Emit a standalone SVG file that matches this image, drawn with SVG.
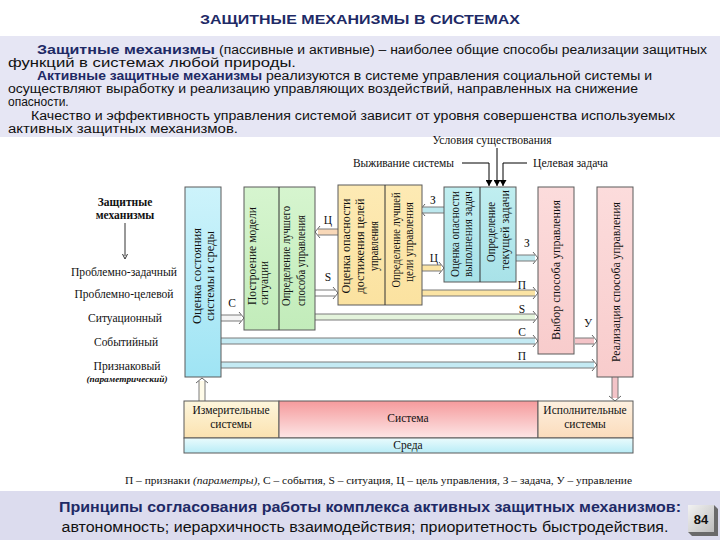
<svg xmlns="http://www.w3.org/2000/svg" width="720" height="540" viewBox="0 0 720 540">
<defs>
<linearGradient id="gBlue" x1="0" y1="0" x2="0" y2="1"><stop offset="0" stop-color="#cdf3fb"/><stop offset="1" stop-color="#9fe4f4"/></linearGradient>
<linearGradient id="gGreen" x1="0" y1="0" x2="0" y2="1"><stop offset="0" stop-color="#d6f5cf"/><stop offset="1" stop-color="#c2ecba"/></linearGradient>
<linearGradient id="gYellow" x1="0" y1="0" x2="0" y2="1"><stop offset="0" stop-color="#fdeab4"/><stop offset="1" stop-color="#fbe2a0"/></linearGradient>
<linearGradient id="gCyan" x1="0" y1="0" x2="0" y2="1"><stop offset="0" stop-color="#c0eef0"/><stop offset="1" stop-color="#a8e2e8"/></linearGradient>
<linearGradient id="gPink" x1="0" y1="0" x2="0" y2="1"><stop offset="0" stop-color="#fcdcdc"/><stop offset="1" stop-color="#f8cccc"/></linearGradient>
<linearGradient id="gSys" x1="0" y1="0" x2="0" y2="1"><stop offset="0" stop-color="#f59a9c"/><stop offset="1" stop-color="#fde6e6"/></linearGradient>
<linearGradient id="gMeas" x1="0" y1="0" x2="0" y2="1"><stop offset="0" stop-color="#fdf6dc"/><stop offset="1" stop-color="#fbe2b0"/></linearGradient>
<linearGradient id="gExec" x1="0" y1="0" x2="0" y2="1"><stop offset="0" stop-color="#fdf0e0"/><stop offset="1" stop-color="#fbdcbc"/></linearGradient>
<linearGradient id="gEnv" x1="0" y1="0" x2="0" y2="1"><stop offset="0" stop-color="#eafbfd"/><stop offset="1" stop-color="#b8ecf6"/></linearGradient>
<linearGradient id="gNum" x1="0" y1="0" x2="1" y2="1"><stop offset="0" stop-color="#f2f2f2"/><stop offset="1" stop-color="#bdbdbd"/></linearGradient>
<marker id="ah" markerWidth="6" markerHeight="7" refX="6" refY="3.5" orient="auto" markerUnits="userSpaceOnUse"><path d="M0,0 L6,3.5 L0,7 Z" fill="#000"/></marker>
</defs>
<style>
.serif{font-family:"Liberation Serif","Times New Roman",serif;fill:#111}
.sans{font-family:"Liberation Sans",Arial,sans-serif;fill:#111}
.navy{fill:#1e2a66;font-weight:bold}
.para{font-size:12px}
.lbl{font-size:11.5px}
.side{font-size:12px}
.box{stroke:#5a5a5a;stroke-width:1}
.dl{stroke:#7a7a7a;stroke-width:1;fill:none}
.ch{stroke:#666;stroke-width:1;fill:none}
.bl{stroke:#000;stroke-width:1;fill:none}
</style>

<rect x="0" y="0" width="720" height="540" fill="#ffffff"/>
<!-- header -->
<g id="title">
<text class="sans navy" x="360" y="24" font-size="13.5" text-anchor="middle" textLength="320" lengthAdjust="spacingAndGlyphs">ЗАЩИТНЫЕ МЕХАНИЗМЫ В СИСТЕМАХ</text>
</g>
<g id="intro">
<rect x="0" y="36" width="720" height="101" fill="#e6e6f4"/>
<text class="sans navy" x="37" y="54" font-size="13.5" textLength="178" lengthAdjust="spacingAndGlyphs">Защитные механизмы</text>
<text class="sans para" x="219" y="54" textLength="488" lengthAdjust="spacingAndGlyphs">(пассивные и активные) – наиболее общие способы реализации защитных</text>
<text class="sans para" x="8" y="67" textLength="288" lengthAdjust="spacingAndGlyphs">функций в системах любой природы.</text>
<text class="sans navy" x="37" y="80" font-size="12" textLength="225" lengthAdjust="spacingAndGlyphs">Активные защитные механизмы</text>
<text class="sans para" x="266" y="80" textLength="386" lengthAdjust="spacingAndGlyphs">реализуются в системе управления социальной системы и</text>
<text class="sans para" x="8" y="93" textLength="630" lengthAdjust="spacingAndGlyphs">осуществляют выработку и реализацию управляющих воздействий, направленных на снижение</text>
<text class="sans para" x="8" y="106">опасности.</text>
<text class="sans para" x="31" y="120" textLength="644" lengthAdjust="spacingAndGlyphs">Качество и эффективность управления системой зависит от уровня совершенства используемых</text>
<text class="sans para" x="8" y="133" textLength="230" lengthAdjust="spacingAndGlyphs">активных защитных механизмов.</text>
</g>

<!-- top inputs -->
<g id="inputs">
<text class="serif lbl" x="492" y="144" text-anchor="middle" textLength="119" lengthAdjust="spacingAndGlyphs">Условия существования</text>
<text class="serif lbl" x="454" y="167" text-anchor="end" textLength="101" lengthAdjust="spacingAndGlyphs">Выживание системы</text>
<text class="serif lbl" x="533" y="167" textLength="75" lengthAdjust="spacingAndGlyphs">Целевая задача</text>
<path class="bl" d="M462 163 H489 V186" marker-end="url(#ah)"/>
<path class="bl" d="M497 148 V186" marker-end="url(#ah)"/>
<path class="bl" d="M527 163 H503 V186" marker-end="url(#ah)"/>
</g>

<!-- left column -->
<g id="mechanisms">
<text class="serif" x="125" y="206" font-size="11.5" font-weight="bold" text-anchor="middle">Защитные</text>
<text class="serif" x="125" y="219" font-size="11.5" font-weight="bold" text-anchor="middle">механизмы</text>
<line x1="125" y1="223" x2="125" y2="256" stroke="#333" stroke-width="1"/>
<path d="M122.5 254 L125 259 L127.5 254" fill="none" stroke="#333" stroke-width="1"/>
<text class="serif side" x="124" y="276" text-anchor="middle" textLength="106" lengthAdjust="spacingAndGlyphs">Проблемно-задачный</text>
<text class="serif side" x="124" y="298" text-anchor="middle" textLength="99" lengthAdjust="spacingAndGlyphs">Проблемно-целевой</text>
<text class="serif side" x="125" y="322" text-anchor="middle" textLength="74" lengthAdjust="spacingAndGlyphs">Ситуационный</text>
<text class="serif side" x="126" y="346" text-anchor="middle" textLength="64" lengthAdjust="spacingAndGlyphs">Событийный</text>
<text class="serif side" x="127" y="370" text-anchor="middle" textLength="67" lengthAdjust="spacingAndGlyphs">Признаковый</text>
<text class="serif" x="127" y="382" font-size="8.5" font-style="italic" font-weight="bold" text-anchor="middle" textLength="81" lengthAdjust="spacingAndGlyphs">(параметрический)</text>
</g>

<!-- connectors -->
<g id="connectors">
<!-- C1 -->
<rect x="221" y="315" width="20" height="6" fill="#f4f4f4"/>
<path class="dl" d="M221 315 H241 M221 321 H241"/>
<path class="ch" d="M239 312 L244 318 L239 324"/>
<!-- Ц1 -->
<rect x="318" y="229" width="20" height="6" fill="#f8d8b8"/>
<path class="dl" d="M318 229 H338 M318 235 H338"/>
<path class="ch" d="M320 226 L315 232 L320 238"/>
<!-- S1 -->
<rect x="315" y="290" width="20" height="6" fill="#ffffff"/>
<path class="dl" d="M315 290 H335 M315 296 H335"/>
<path class="ch" d="M333 287 L338 293 L333 299"/>
<!-- З1 -->
<rect x="423" y="207" width="21" height="6" fill="#bde8ee"/>
<path class="dl" d="M423 207 H444 M423 213 H444"/>
<path class="ch" d="M425 204 L420 210 L425 216"/>
<!-- Ц2 -->
<rect x="422" y="265" width="19" height="6" fill="#fbe4a4"/>
<path class="dl" d="M422 265 H441 M422 271 H441"/>
<path class="ch" d="M439 262 L444 268 L439 274"/>
<!-- З2 -->
<rect x="516" y="255" width="19" height="6" fill="#bde8ee"/>
<path class="dl" d="M516 255 H535 M516 261 H535"/>
<path class="ch" d="M533 252 L538 258 L533 264"/>
<!-- П1 -->
<rect x="422" y="290" width="113" height="6" fill="#fbe4a4"/>
<path class="dl" d="M422 290 H535 M422 296 H535"/>
<path class="ch" d="M533 287 L538 293 L533 299"/>
<!-- S2 -->
<rect x="315" y="314" width="220" height="6" fill="#e4f4dc"/>
<path class="dl" d="M315 314 H535 M315 320 H535"/>
<path class="ch" d="M533 311 L538 317 L533 323"/>
<!-- C2 -->
<rect x="221" y="338" width="314" height="6" fill="#c4eaf3"/>
<path class="dl" d="M221 338 H535 M221 344 H535"/>
<path class="ch" d="M533 335 L538 341 L533 347"/>
<!-- П2 -->
<rect x="221" y="362" width="373" height="6" fill="#c4eaf3"/>
<path class="dl" d="M221 362 H594 M221 368 H594"/>
<path class="ch" d="M592 359 L597 365 L592 371"/>
<!-- У -->
<rect x="575" y="338" width="19" height="6" fill="#f4c4c8"/>
<path class="dl" d="M575 338 H594 M575 344 H594"/>
<path class="ch" d="M592 335 L597 341 L592 347"/>
<!-- up from measuring -->
<rect x="199" y="381" width="6" height="20" fill="#fffbe8"/>
<path class="dl" d="M199 381 V401 M205 381 V401"/>
<path class="ch" d="M196 383 L202 378 L208 383"/>
<!-- down to executive -->
<rect x="612" y="377" width="6" height="21" fill="#f4c4c8"/>
<path class="dl" d="M612 377 V398 M618 377 V398"/>
<path class="ch" d="M609 396 L615 401 L621 396"/>
<!-- labels -->
<g class="serif" font-size="11.5" text-anchor="middle">
<text x="232" y="307">С</text>
<text x="328" y="224">Ц</text>
<text x="328" y="281">S</text>
<text x="433" y="204">З</text>
<text x="434" y="262">Ц</text>
<text x="527" y="247">З</text>
<text x="522" y="289">П</text>
<text x="522" y="313">S</text>
<text x="522" y="336">С</text>
<text x="522" y="360">П</text>
<text x="588" y="327">У</text>
</g>
</g>

<!-- nodes -->
<g id="node-assess">
<rect class="box" x="185" y="187" width="36" height="190" fill="url(#gBlue)" stroke="#4a7a90"/>
<text class="serif lbl" transform="translate(201,276) rotate(-90)" text-anchor="middle" textLength="96" lengthAdjust="spacingAndGlyphs">Оценка  состояния</text>
<text class="serif lbl" transform="translate(214,276) rotate(-90)" text-anchor="middle" textLength="90" lengthAdjust="spacingAndGlyphs">системы и среды</text>
</g>
<g id="node-model">
<rect class="box" x="244" y="187" width="71" height="143" fill="url(#gGreen)" stroke="#6a8a6a"/>
<line x1="279" y1="187" x2="279" y2="330" stroke="#333" stroke-width="1"/>
<text class="serif lbl" transform="translate(256,305) rotate(-90)" textLength="98" lengthAdjust="spacingAndGlyphs">Построение модели</text>
<text class="serif lbl" transform="translate(268,305) rotate(-90)" textLength="44" lengthAdjust="spacingAndGlyphs">ситуации</text>
<text class="serif lbl" transform="translate(290,306) rotate(-90)" textLength="100" lengthAdjust="spacingAndGlyphs">Определение лучшего</text>
<text class="serif lbl" transform="translate(305,306) rotate(-90)" textLength="91" lengthAdjust="spacingAndGlyphs">способа  управления</text>
</g>
<g id="node-goal">
<rect class="box" x="338" y="185" width="84" height="120" fill="url(#gYellow)" stroke="#8a7a50"/>
<line x1="385" y1="185" x2="385" y2="305" stroke="#333" stroke-width="1"/>
<text class="serif lbl" transform="translate(350,246) rotate(-90)" text-anchor="middle" textLength="95" lengthAdjust="spacingAndGlyphs">Оценка опасности</text>
<text class="serif lbl" transform="translate(364,246) rotate(-90)" text-anchor="middle" textLength="95" lengthAdjust="spacingAndGlyphs">достижения  целей</text>
<text class="serif lbl" transform="translate(378,246) rotate(-90)" text-anchor="middle" textLength="50" lengthAdjust="spacingAndGlyphs">управления</text>
<text class="serif lbl" transform="translate(400,240) rotate(-90)" text-anchor="middle" textLength="95" lengthAdjust="spacingAndGlyphs">Определение лучшей</text>
<text class="serif lbl" transform="translate(413,242) rotate(-90)" text-anchor="middle" textLength="80" lengthAdjust="spacingAndGlyphs">цели управления</text>
</g>
<g id="node-task">
<rect class="box" x="444" y="187" width="72" height="95" fill="url(#gCyan)" stroke="#4a7a80"/>
<line x1="480" y1="187" x2="480" y2="282" stroke="#333" stroke-width="1"/>
<text class="serif lbl" transform="translate(459,234) rotate(-90)" text-anchor="middle" textLength="86" lengthAdjust="spacingAndGlyphs">Оценка опасности</text>
<text class="serif lbl" transform="translate(472,234) rotate(-90)" text-anchor="middle" textLength="86" lengthAdjust="spacingAndGlyphs">выполнения задач</text>
<text class="serif lbl" transform="translate(495,232) rotate(-90)" text-anchor="middle" textLength="60" lengthAdjust="spacingAndGlyphs">Определение</text>
<text class="serif lbl" transform="translate(509,230) rotate(-90)" text-anchor="middle" textLength="80" lengthAdjust="spacingAndGlyphs">текущей задачи</text>
</g>
<g id="node-choice">
<rect class="box" x="538" y="187" width="36" height="167" fill="url(#gPink)" stroke="#9a7a7a"/>
<text class="serif lbl" transform="translate(560,270) rotate(-90)" text-anchor="middle" textLength="140" lengthAdjust="spacingAndGlyphs">Выбор способа управления</text>
</g>
<g id="node-realize">
<rect class="box" x="597" y="187" width="36" height="190" fill="url(#gPink)" stroke="#9a7a7a"/>
<text class="serif lbl" transform="translate(620,282) rotate(-90)" text-anchor="middle" textLength="160" lengthAdjust="spacingAndGlyphs">Реализация способа управления</text>
</g>

<g id="node-measure">
<rect class="box" x="184" y="401" width="95" height="37" fill="url(#gMeas)"/>
<text class="serif lbl" x="231" y="414" text-anchor="middle">Измерительные</text>
<text class="serif lbl" x="231" y="428" text-anchor="middle">системы</text>
</g>
<g id="node-system">
<rect class="box" x="279" y="401" width="259" height="37" fill="url(#gSys)"/>
<text class="serif lbl" x="408" y="422" text-anchor="middle">Система</text>
</g>
<g id="node-exec">
<rect class="box" x="538" y="401" width="95" height="37" fill="url(#gExec)"/>
<text class="serif lbl" x="585" y="414" text-anchor="middle">Исполнительные</text>
<text class="serif lbl" x="585" y="428" text-anchor="middle">системы</text>
</g>
<g id="node-env">
<rect class="box" x="184" y="438" width="449" height="15" fill="url(#gEnv)"/>
<text class="serif lbl" x="408" y="449" text-anchor="middle">Среда</text>
</g>

<g id="legend">
<text class="serif" x="125" y="484" font-size="10.5" textLength="507" lengthAdjust="spacingAndGlyphs">П – признаки <tspan font-style="italic">(параметры)</tspan>, С – события,  S – ситуация,  Ц – цель управления, З – задача,  У –  управление</text>
</g>

<g id="principles">
<rect x="0" y="491" width="720" height="49" fill="#dcdcee"/>
<text class="sans navy" x="370" y="512" font-size="14" text-anchor="middle" textLength="622" lengthAdjust="spacingAndGlyphs">Принципы согласования работы комплекса активных защитных механизмов:</text>
<text class="sans" x="365" y="532" font-size="14" text-anchor="middle" textLength="607" lengthAdjust="spacingAndGlyphs">автономность; иерархичность взаимодействия; приоритетность быстродействия.</text>
</g>
<g id="page-number">
<path d="M692 536 H718 V509 L714 505 V532 H688 Z" fill="#6a6a6a"/>
<rect x="688" y="505" width="26" height="27" fill="url(#gNum)"/>
<text class="sans" x="701" y="524" font-size="13" font-weight="bold" text-anchor="middle">84</text>
</g>
</svg>
